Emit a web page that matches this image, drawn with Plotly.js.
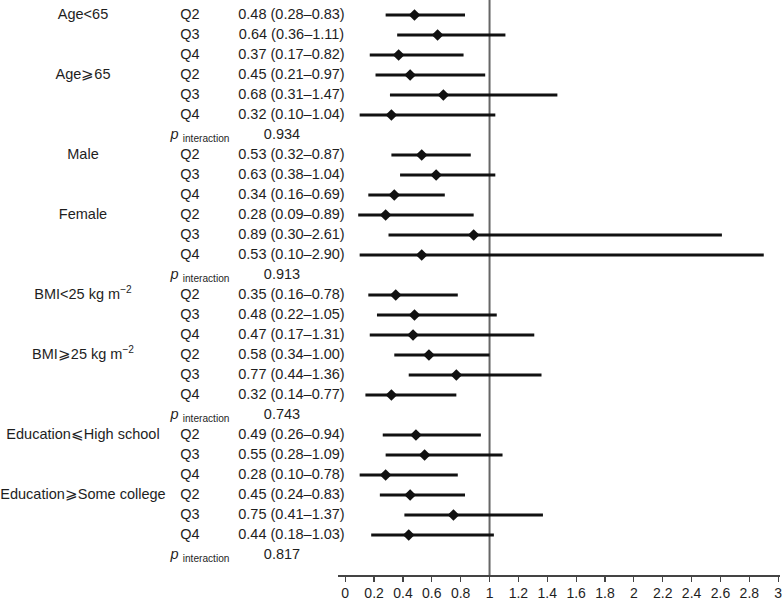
<!DOCTYPE html>
<html>
<head>
<meta charset="utf-8">
<script src="https://cdn.plot.ly/plotly-3.0.1.min.js"></script>
<style>html,body{margin:0;padding:0;background:#fff;}</style>
</head>
<body>
<div id="chart" style="width:782px;height:600px;"></div>
<script>
// ---- data ----
var groupLabels = ['Age<65', 'Age\u2A7E65', 'Male', 'Female',
  'BMI<25 kg m<sup>\u22122</sup>', 'BMI\u2A7E25 kg m<sup>\u22122</sup>',
  'Education\u2A7DHigh school', 'Education\u2A7ESome college'];
var quartiles = ['Q2', 'Q3', 'Q4'];
var hr    = [0.48, 0.64, 0.37, 0.45, 0.68, 0.32,
             0.53, 0.63, 0.34, 0.28, 0.89, 0.53,
             0.35, 0.48, 0.47, 0.58, 0.77, 0.32,
             0.49, 0.55, 0.28, 0.45, 0.75, 0.44];
var lower = [0.28, 0.36, 0.17, 0.21, 0.31, 0.10,
             0.32, 0.38, 0.16, 0.09, 0.30, 0.10,
             0.16, 0.22, 0.17, 0.34, 0.44, 0.14,
             0.26, 0.28, 0.10, 0.24, 0.41, 0.18];
var upper = [0.83, 1.11, 0.82, 0.97, 1.47, 1.04,
             0.87, 1.04, 0.69, 0.89, 2.61, 2.90,
             0.78, 1.05, 1.31, 1.00, 1.36, 0.77,
             0.94, 1.09, 0.78, 0.83, 1.37, 1.03];
var pInteraction = ['0.934', '0.913', '0.743', '0.817'];
var tickValues = [0, 0.2, 0.4, 0.6, 0.8, 1, 1.2, 1.4, 1.6, 1.8, 2, 2.2, 2.4, 2.6, 2.8, 3];
var tickLabels = ['0', '0.2', '0.4', '0.6', '0.8', '1', '1.2', '1.4', '1.6', '1.8', '2', '2.2', '2.4', '2.6', '2.8', '3'];

// ---- build rows ----
function fmt(v) { return v.toFixed(2); }
var rowY = [], qText = [], estText = [];
var groupY = [], pY = [];
for (var p = 0; p < 4; p++) {
  for (var g = 0; g < 2; g++) {
    groupY.push(p * 7 + g * 3);
    for (var q = 0; q < 3; q++) {
      var k = p * 6 + g * 3 + q;
      rowY.push(p * 7 + g * 3 + q);
      qText.push(quartiles[q]);
      estText.push(fmt(hr[k]) + ' (' + fmt(lower[k]) + '\u2013' + fmt(upper[k]) + ')');
    }
  }
  pY.push(p * 7 + 6);
}

var FONT = 'Liberation Sans, Arial, Helvetica, sans-serif';
var TXT = '#1e1e1e';
var PW = 780, L = 338;

var traces = [
  {
    type: 'scatter', mode: 'markers', x: hr, y: rowY,
    marker: { symbol: 'diamond', size: 9, color: '#111' },
    error_x: {
      type: 'data', symmetric: false,
      array: hr.map(function (v, i) { return upper[i] - v; }),
      arrayminus: hr.map(function (v, i) { return v - lower[i]; }),
      thickness: 3, width: 0, color: '#111'
    },
    hoverinfo: 'skip', showlegend: false, cliponaxis: false
  },
  { type: 'scatter', mode: 'text', xaxis: 'x2', yaxis: 'y',
    x: groupY.map(function () { return 83; }), y: groupY, text: groupLabels,
    textposition: 'middle center', textfont: { family: FONT, size: 14.5, color: TXT },
    hoverinfo: 'skip', showlegend: false, cliponaxis: false },
  { type: 'scatter', mode: 'text', xaxis: 'x2', yaxis: 'y',
    x: rowY.map(function () { return 190; }), y: rowY, text: qText,
    textposition: 'middle center', textfont: { family: FONT, size: 14.5, color: TXT },
    hoverinfo: 'skip', showlegend: false, cliponaxis: false },
  { type: 'scatter', mode: 'text', xaxis: 'x2', yaxis: 'y',
    x: rowY.map(function () { return 291.5; }), y: rowY, text: estText,
    textposition: 'middle center', textfont: { family: FONT, size: 14.5, color: TXT },
    hoverinfo: 'skip', showlegend: false, cliponaxis: false },
  { type: 'scatter', mode: 'text', xaxis: 'x2', yaxis: 'y',
    x: pY.map(function () { return 200; }), y: pY,
    text: pY.map(function () { return '<i>p</i> <sub>interaction</sub>'; }),
    textposition: 'middle center', textfont: { family: FONT, size: 14.5, color: TXT },
    hoverinfo: 'skip', showlegend: false, cliponaxis: false },
  { type: 'scatter', mode: 'text', xaxis: 'x2', yaxis: 'y',
    x: pY.map(function () { return 282; }), y: pY, text: pInteraction,
    textposition: 'middle center', textfont: { family: FONT, size: 14.5, color: TXT },
    hoverinfo: 'skip', showlegend: false, cliponaxis: false }
];

var layout = {
  width: 782, height: 600,
  margin: { l: 0, r: 2, t: 0, b: 25, pad: 0 },
  paper_bgcolor: '#fff', plot_bgcolor: '#fff',
  font: { family: FONT, size: 14, color: TXT },
  showlegend: false,
  xaxis: {
    domain: [L / PW, 1], range: [-0.05, 3.0125],
    tickvals: tickValues, ticktext: tickLabels,
    ticklabeloverflow: 'allow',
    showline: true, linecolor: '#444', linewidth: 1.5,
    ticks: 'outside', ticklen: 5, tickwidth: 1.2, tickcolor: '#444',
    showgrid: false, zeroline: false, fixedrange: true,
    tickfont: { family: FONT, size: 14, color: TXT }
  },
  xaxis2: { domain: [0, L / PW], range: [0, L], visible: false, anchor: 'y', fixedrange: true },
  yaxis: { range: [28, -0.75], visible: false, fixedrange: true },
  shapes: [
    { type: 'line', xref: 'x', yref: 'paper', x0: 1, x1: 1, y0: 0, y1: 1,
      line: { color: '#666', width: 2 }, layer: 'below' }
  ]
};

Plotly.newPlot('chart', traces, layout, { staticPlot: true, displayModeBar: false });
</script>
</body>
</html>
